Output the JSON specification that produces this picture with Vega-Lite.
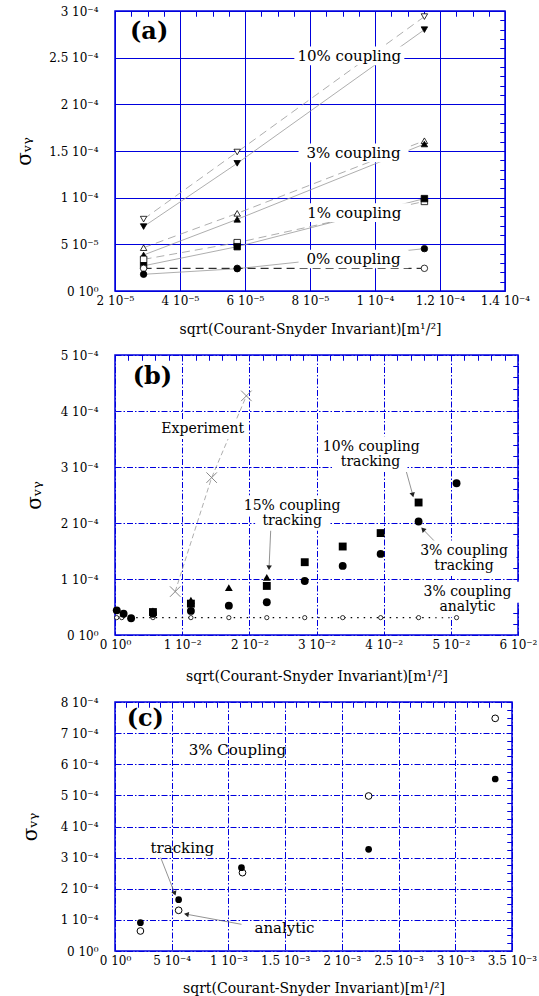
{
"$schema": "https://vega.github.io/schema/vega-lite/v6.json",
"background": "white",
"padding": {"left": 13, "top": 4, "right": 0, "bottom": 0},
"columns": 1,
"align": "none",
"spacing": 11,
"resolve": {"scale": {"shape": "independent", "fill": "independent"}},
"datasets": {
"a_pts": [
{"coupling":"10%","type":"analytic","x":0.0000288,"y":0.000077},
{"coupling":"10%","type":"analytic","x":0.0000576,"y":0.0001489},
{"coupling":"10%","type":"analytic","x":0.0001152,"y":0.000294},
{"coupling":"10%","type":"tracking","x":0.0000288,"y":0.000069},
{"coupling":"10%","type":"tracking","x":0.0000576,"y":0.0001368},
{"coupling":"10%","type":"tracking","x":0.0001152,"y":0.00028},
{"coupling":"3%","type":"analytic","x":0.0000288,"y":0.0000464},
{"coupling":"3%","type":"analytic","x":0.0000576,"y":0.0000832},
{"coupling":"3%","type":"analytic","x":0.0001152,"y":0.000161},
{"coupling":"3%","type":"tracking","x":0.0000288,"y":0.0000386},
{"coupling":"3%","type":"tracking","x":0.0000576,"y":0.0000768},
{"coupling":"3%","type":"tracking","x":0.0001152,"y":0.0001575},
{"coupling":"1%","type":"analytic","x":0.0000288,"y":0.0000339},
{"coupling":"1%","type":"analytic","x":0.0000576,"y":0.0000518},
{"coupling":"1%","type":"analytic","x":0.0001152,"y":0.000096},
{"coupling":"1%","type":"tracking","x":0.0000288,"y":0.000027},
{"coupling":"1%","type":"tracking","x":0.0000576,"y":0.0000475},
{"coupling":"1%","type":"tracking","x":0.0001152,"y":0.000099},
{"coupling":"0%","type":"analytic","x":0.0000288,"y":0.0000243},
{"coupling":"0%","type":"analytic","x":0.0000576,"y":0.0000243},
{"coupling":"0%","type":"analytic","x":0.0001152,"y":0.0000243},
{"coupling":"0%","type":"tracking","x":0.0000288,"y":0.0000179},
{"coupling":"0%","type":"tracking","x":0.0000576,"y":0.0000239},
{"coupling":"0%","type":"tracking","x":0.0001152,"y":0.0000454}
],
"a_txt": [
{"kind":"note","x":0.0000921,"y":0.000252,"label":"10% coupling"},
{"kind":"note","x":0.0000934,"y":0.000148,"label":"3% coupling"},
{"kind":"note","x":0.0000936,"y":0.000084,"label":"1% coupling"},
{"kind":"note","x":0.0000934,"y":0.0000343,"label":"0% coupling"},
{"kind":"tag","x":0.0000305,"y":0.000278,"label":"(a)"}
],
"b_pts": [
{"series":"experiment","x":0.00896,"y":0.0000775},
{"series":"experiment","x":0.01439,"y":0.000281},
{"series":"experiment","x":0.01956,"y":0.000427},
{"series":"3% analytic","x":0.00025,"y":0.000031},
{"series":"3% analytic","x":0.001,"y":0.000031},
{"series":"3% analytic","x":0.00565,"y":0.000031},
{"series":"3% analytic","x":0.0113,"y":0.000031},
{"series":"3% analytic","x":0.01695,"y":0.000031},
{"series":"3% analytic","x":0.0226,"y":0.000031},
{"series":"3% analytic","x":0.02825,"y":0.000031},
{"series":"3% analytic","x":0.0339,"y":0.000031},
{"series":"3% analytic","x":0.03955,"y":0.000031},
{"series":"3% analytic","x":0.0452,"y":0.000031},
{"series":"3% analytic","x":0.05085,"y":0.000031},
{"series":"3% tracking","x":0.00026,"y":0.000044},
{"series":"3% tracking","x":0.00128,"y":0.000038},
{"series":"3% tracking","x":0.0024,"y":0.00003},
{"series":"3% tracking","x":0.00565,"y":0.000038},
{"series":"3% tracking","x":0.0113,"y":0.000043},
{"series":"3% tracking","x":0.01695,"y":0.0000524},
{"series":"3% tracking","x":0.0226,"y":0.0000584},
{"series":"3% tracking","x":0.02825,"y":0.0000965},
{"series":"3% tracking","x":0.0339,"y":0.0001234},
{"series":"3% tracking","x":0.03955,"y":0.0001448},
{"series":"3% tracking","x":0.0452,"y":0.0002026},
{"series":"3% tracking","x":0.05085,"y":0.000271},
{"series":"10% tracking","x":0.00565,"y":0.000041},
{"series":"10% tracking","x":0.0113,"y":0.000056},
{"series":"10% tracking","x":0.0226,"y":0.0000876},
{"series":"10% tracking","x":0.02825,"y":0.00013},
{"series":"10% tracking","x":0.0339,"y":0.000158},
{"series":"10% tracking","x":0.03955,"y":0.000182},
{"series":"10% tracking","x":0.0452,"y":0.0002366},
{"series":"15% tracking","x":0.00565,"y":0.000043},
{"series":"15% tracking","x":0.0113,"y":0.000062},
{"series":"15% tracking","x":0.01695,"y":0.0000845},
{"series":"15% tracking","x":0.0226,"y":0.000103}
],
"b_txt": [
{"kind":"note","x":0.01306,"y":0.0003677,"label":"Experiment"},
{"kind":"note","x":0.03815,"y":0.000336,"label":"10% coupling"},
{"kind":"note","x":0.03804,"y":0.000309,"label":"tracking"},
{"kind":"note","x":0.02637,"y":0.000231,"label":"15% coupling"},
{"kind":"note","x":0.02637,"y":0.000204,"label":"tracking"},
{"kind":"note","x":0.05197,"y":0.00015,"label":"3% coupling"},
{"kind":"note","x":0.05197,"y":0.000123,"label":"tracking"},
{"kind":"note","x":0.05248,"y":0.0000765,"label":"3% coupling"},
{"kind":"note","x":0.05248,"y":0.0000495,"label":"analytic"},
{"kind":"tag","x":0.00558,"y":0.00046,"label":"(b)"}
],
"b_arrows": [
{"id":"a10","x":0.04327,"y":0.0002962,"x2":0.0443,"y2":0.0002515},
{"id":"a15","x":0.0232,"y":0.0001919,"x2":0.02294,"y2":0.0001216},
{"id":"a3","x":0.04762,"y":0.0001669,"x2":0.04593,"y2":0.0001877}
],
"c_pts": [
{"type":"tracking","x":0.000224,"y":0.000091},
{"type":"tracking","x":0.000561,"y":0.0001649},
{"type":"tracking","x":0.001115,"y":0.0002677},
{"type":"tracking","x":0.002236,"y":0.0003266},
{"type":"tracking","x":0.003352,"y":0.0005526},
{"type":"analytic","x":0.000224,"y":0.0000643},
{"type":"analytic","x":0.000561,"y":0.0001307},
{"type":"analytic","x":0.001124,"y":0.0002517},
{"type":"analytic","x":0.002236,"y":0.000498},
{"type":"analytic","x":0.003352,"y":0.0007475}
],
"c_txt": [
{"kind":"note","x":0.001079,"y":0.000646,"label":"3% Coupling"},
{"kind":"note","x":0.000594,"y":0.000332,"label":"tracking"},
{"kind":"note","x":0.001494,"y":0.000075,"label":"analytic"},
{"kind":"tag","x":0.000267,"y":0.000746,"label":"(c)"}
],
"c_arrows": [
{"id":"t","x":0.000403,"y":0.0003,"x2":0.000524,"y2":0.0001874},
{"id":"an","x":0.001115,"y":0.0000857,"x2":0.000636,"y2":0.0001178}
]
},
"concat": [
{
"width": 390, "height": 280,
"resolve": {"axis": {"x": "independent", "y": "independent"}},
"layer": [
{"data": {"name": "a_pts"}, "transform": [{"filter": "datum.type == 'tracking'"}],
 "mark": {"type": "line", "color": "#999999", "strokeWidth": 0.8},
 "encoding": {
  "x": {"field": "x", "type": "quantitative", "scale": {"domain": [0.00002, 0.00014], "nice": false, "zero": false},
   "axis": {"values": [0.00002,0.00004,0.00006,0.00008,0.0001,0.00012,0.00014], "grid": true, "labelPadding": 4,
    "labelExpr": "datum.value < 9.9e-5 ? format(datum.value*1e5, '.2~f') + ' 10⁻⁵' : format(datum.value*1e4, '.2~f') + ' 10⁻⁴'",
    "title": "sqrt(Courant-Snyder Invariant)[m¹/²]", "titlePadding": 16}},
  "y": {"field": "y", "type": "quantitative", "scale": {"domain": [0, 0.0003], "nice": false, "zero": false},
   "axis": {"values": [0,0.00005,0.0001,0.00015,0.0002,0.00025,0.0003], "grid": true, "labelPadding": 17,
    "labelExpr": "datum.value < 1e-9 ? '0 10⁰' : (datum.value < 9.9e-5 ? format(datum.value*1e5, '.2~f') + ' 10⁻⁵' : format(datum.value*1e4, '.2~f') + ' 10⁻⁴')",
    "title": "σᵥᵧ", "titleFontSize": 20, "titlePadding": 14}},
  "detail": {"field": "coupling"}
 }},
{"data": {"name": "a_pts"}, "transform": [{"filter": "datum.type == 'analytic' && datum.coupling != '0%'"}],
 "mark": {"type": "line", "color": "#999999", "strokeWidth": 0.8, "strokeDash": [8, 5]},
 "encoding": {
  "x": {"field": "x", "type": "quantitative", "scale": {"domain": [0.00002, 0.00014], "nice": false, "zero": false},
   "axis": {"values": [0.000025,0.00003,0.000035,0.00004,0.000045,0.00005,0.000055,0.00006,0.000065,0.00007,0.000075,0.00008,0.000085,0.00009,0.000095,0.0001,0.000105,0.00011,0.000115,0.00012,0.000125,0.00013,0.000135], "labels": false, "ticks": true, "tickSize": -5, "title": null}},
  "y": {"field": "y", "type": "quantitative", "scale": {"domain": [0, 0.0003], "nice": false, "zero": false},
   "axis": {"values": [0.00001,0.00002,0.00003,0.00004,0.00005,0.00006,0.00007,0.00008,0.00009,0.0001,0.00011,0.00012,0.00013,0.00014,0.00015,0.00016,0.00017,0.00018,0.00019,0.0002,0.00021,0.00022,0.00023,0.00024,0.00025,0.00026,0.00027,0.00028,0.00029], "labels": false, "ticks": true, "tickSize": -5, "title": null}},
  "detail": {"field": "coupling"}
 }},
{"data": {"name": "a_pts"}, "transform": [{"filter": "datum.type == 'analytic' && datum.coupling == '0%'"}],
 "mark": {"type": "line", "color": "black", "strokeWidth": 1, "strokeDash": [8, 5]},
 "encoding": {
  "x": {"field": "x", "type": "quantitative", "scale": {"domain": [0.00002, 0.00014], "nice": false, "zero": false},
   "axis": {"orient": "top", "values": [0.000025,0.00003,0.000035,0.00004,0.000045,0.00005,0.000055,0.00006,0.000065,0.00007,0.000075,0.00008,0.000085,0.00009,0.000095,0.0001,0.000105,0.00011,0.000115,0.00012,0.000125,0.00013,0.000135], "labels": false, "ticks": true, "tickSize": -5, "title": null}},
  "y": {"field": "y", "type": "quantitative", "scale": {"domain": [0, 0.0003], "nice": false, "zero": false},
   "axis": {"orient": "right", "values": [0.00001,0.00002,0.00003,0.00004,0.00005,0.00006,0.00007,0.00008,0.00009,0.0001,0.00011,0.00012,0.00013,0.00014,0.00015,0.00016,0.00017,0.00018,0.00019,0.0002,0.00021,0.00022,0.00023,0.00024,0.00025,0.00026,0.00027,0.00028,0.00029], "labels": false, "ticks": true, "tickSize": -5, "title": null}}
 }},
{"data": {"name": "a_txt"}, "transform": [{"filter": "datum.kind == 'note'"}],
 "mark": {"type": "point", "shape": "M-1,-0.17L1,-0.17L1,0.17L-1,0.17Z", "filled": true, "color": "white", "size": 12100, "opacity": 1, "strokeWidth": 0},
 "encoding": {
  "x": {"field": "x", "type": "quantitative", "axis": null},
  "y": {"field": "y", "type": "quantitative", "axis": null}
 }},
{"data": {"name": "a_pts"},
 "mark": {"type": "point", "filled": true, "stroke": "black", "strokeWidth": 0.8, "size": 42, "opacity": 1},
 "encoding": {
  "x": {"field": "x", "type": "quantitative", "axis": null},
  "y": {"field": "y", "type": "quantitative", "axis": null},
  "shape": {"field": "coupling", "type": "nominal", "scale": {"domain": ["10%","3%","1%","0%"], "range": ["triangle-down","triangle-up","square","circle"]}, "legend": null},
  "fill": {"field": "type", "type": "nominal", "scale": {"domain": ["tracking","analytic"], "range": ["black","white"]}, "legend": null}
 }},
{"data": {"name": "a_txt"}, "transform": [{"filter": "datum.kind == 'note'"}],
 "mark": {"type": "text", "font": "DejaVu Serif", "fontSize": 15, "color": "black"},
 "encoding": {
  "x": {"field": "x", "type": "quantitative", "axis": null},
  "y": {"field": "y", "type": "quantitative", "axis": null},
  "text": {"field": "label"}
 }},
{"data": {"name": "a_txt"}, "transform": [{"filter": "datum.kind == 'tag'"}],
 "mark": {"type": "text", "font": "DejaVu Serif", "fontSize": 24, "fontWeight": "bold", "color": "black"},
 "encoding": {
  "x": {"field": "x", "type": "quantitative", "axis": null},
  "y": {"field": "y", "type": "quantitative", "axis": null},
  "text": {"field": "label"}
 }}
]
},
{
"width": 403, "height": 280,
"resolve": {"axis": {"x": "independent", "y": "independent"}},
"layer": [
{"data": {"name": "b_pts"}, "transform": [{"filter": "datum.series == 'experiment'"}],
 "mark": {"type": "line", "color": "#999999", "strokeWidth": 0.8, "strokeDash": [5, 3]},
 "encoding": {
  "x": {"field": "x", "type": "quantitative", "scale": {"domain": [0, 0.06], "nice": false, "zero": false},
   "axis": {"values": [0,0.01,0.02,0.03,0.04,0.05,0.06], "grid": true, "gridDash": [6,2,1.5,2], "labelPadding": 4,
    "labelExpr": "datum.value < 1e-9 ? '0 10⁰' : format(datum.value*100, '.2~f') + ' 10⁻²'",
    "title": "sqrt(Courant-Snyder Invariant)[m¹/²]", "titlePadding": 19}},
  "y": {"field": "y", "type": "quantitative", "scale": {"domain": [0, 0.0005], "nice": false, "zero": false},
   "axis": {"values": [0,0.0001,0.0002,0.0003,0.0004,0.0005], "grid": true, "gridDash": [6,2,1.5,2], "labelPadding": 17,
    "labelExpr": "datum.value < 1e-9 ? '0 10⁰' : format(datum.value*1e4, '.2~f') + ' 10⁻⁴'",
    "title": "σᵥᵧ", "titleFontSize": 20, "titlePadding": 16}}
 }},
{"data": {"name": "b_pts"}, "transform": [{"filter": "datum.series == '3% analytic'"}],
 "mark": {"type": "line", "color": "black", "strokeWidth": 1.2, "strokeDash": [1.5, 5]},
 "encoding": {
  "x": {"field": "x", "type": "quantitative", "scale": {"domain": [0, 0.06], "nice": false, "zero": false},
   "axis": {"values": [0.002,0.004,0.006,0.008,0.01,0.012,0.014,0.016,0.018,0.02,0.022,0.024,0.026,0.028,0.03,0.032,0.034,0.036,0.038,0.04,0.042,0.044,0.046,0.048,0.05,0.052,0.054,0.056,0.058], "labels": false, "ticks": true, "tickSize": -5, "title": null}},
  "y": {"field": "y", "type": "quantitative", "scale": {"domain": [0, 0.0005], "nice": false, "zero": false},
   "axis": {"values": [0.00002,0.00004,0.00006,0.00008,0.0001,0.00012,0.00014,0.00016,0.00018,0.0002,0.00022,0.00024,0.00026,0.00028,0.0003,0.00032,0.00034,0.00036,0.00038,0.0004,0.00042,0.00044,0.00046,0.00048], "labels": false, "ticks": true, "tickSize": -5, "title": null}}
 }},
{"data": {"name": "b_arrows"},
 "mark": {"type": "rule", "color": "#777777", "strokeWidth": 0.8},
 "encoding": {
  "x": {"field": "x", "type": "quantitative", "scale": {"domain": [0, 0.06], "nice": false, "zero": false},
   "axis": {"orient": "top", "values": [0.002,0.004,0.006,0.008,0.01,0.012,0.014,0.016,0.018,0.02,0.022,0.024,0.026,0.028,0.03,0.032,0.034,0.036,0.038,0.04,0.042,0.044,0.046,0.048,0.05,0.052,0.054,0.056,0.058], "labels": false, "ticks": true, "tickSize": -5, "title": null}},
  "y": {"field": "y", "type": "quantitative", "scale": {"domain": [0, 0.0005], "nice": false, "zero": false},
   "axis": {"orient": "right", "values": [0.00002,0.00004,0.00006,0.00008,0.0001,0.00012,0.00014,0.00016,0.00018,0.0002,0.00022,0.00024,0.00026,0.00028,0.0003,0.00032,0.00034,0.00036,0.00038,0.0004,0.00042,0.00044,0.00046,0.00048], "labels": false, "ticks": true, "tickSize": -5, "title": null}},
  "x2": {"field": "x2"},
  "y2": {"field": "y2"}
 }},
{"data": {"name": "b_txt"}, "transform": [{"filter": "datum.kind == 'note' && indexof(datum.label, 'coupling') >= 0"}],
 "mark": {"type": "point", "shape": "M-1,-0.2L1,-0.2L1,0.2L-1,0.2Z", "filled": true, "color": "white", "size": 11025, "opacity": 1, "strokeWidth": 0},
 "encoding": {
  "x": {"field": "x", "type": "quantitative", "axis": null},
  "y": {"field": "y", "type": "quantitative", "axis": null}
 }},
{"data": {"name": "b_txt"}, "transform": [{"filter": "datum.kind == 'note' && indexof(datum.label, 'coupling') < 0"}],
 "mark": {"type": "point", "shape": "M-1,-0.27L1,-0.27L1,0.27L-1,0.27Z", "filled": true, "color": "white", "size": 5476, "opacity": 1, "strokeWidth": 0},
 "encoding": {
  "x": {"field": "x", "type": "quantitative", "axis": null},
  "y": {"field": "y", "type": "quantitative", "axis": null}
 }},
{"data": {"name": "b_arrows"}, "transform": [{"filter": "datum.id == 'a10'"}],
 "mark": {"type": "point", "shape": "triangle", "filled": true, "color": "#222222", "size": 30, "angle": 165, "opacity": 1},
 "encoding": {"x": {"field": "x2", "type": "quantitative", "axis": null}, "y": {"field": "y2", "type": "quantitative", "axis": null}}},
{"data": {"name": "b_arrows"}, "transform": [{"filter": "datum.id == 'a15'"}],
 "mark": {"type": "point", "shape": "triangle", "filled": true, "color": "#222222", "size": 30, "angle": 182, "opacity": 1},
 "encoding": {"x": {"field": "x2", "type": "quantitative", "axis": null}, "y": {"field": "y2", "type": "quantitative", "axis": null}}},
{"data": {"name": "b_arrows"}, "transform": [{"filter": "datum.id == 'a3'"}],
 "mark": {"type": "point", "shape": "triangle", "filled": true, "color": "#222222", "size": 30, "angle": 316, "opacity": 1},
 "encoding": {"x": {"field": "x2", "type": "quantitative", "axis": null}, "y": {"field": "y2", "type": "quantitative", "axis": null}}},
{"data": {"name": "b_pts"}, "transform": [{"filter": "datum.series == 'experiment'"}],
 "mark": {"type": "point", "shape": "M-1,-1L1,1M-1,1L1,-1", "filled": false, "stroke": "#888888", "strokeWidth": 1, "size": 110, "opacity": 1},
 "encoding": {"x": {"field": "x", "type": "quantitative", "axis": null}, "y": {"field": "y", "type": "quantitative", "axis": null}}},
{"data": {"name": "b_pts"}, "transform": [{"filter": "datum.series == '3% analytic'"}],
 "mark": {"type": "point", "shape": "circle", "filled": true, "fill": "white", "stroke": "black", "strokeWidth": 0.8, "size": 18, "opacity": 1},
 "encoding": {"x": {"field": "x", "type": "quantitative", "axis": null}, "y": {"field": "y", "type": "quantitative", "axis": null}}},
{"data": {"name": "b_pts"}, "transform": [{"filter": "datum.series != '3% analytic' && datum.series != 'experiment'"}],
 "mark": {"type": "point", "filled": true, "color": "black", "size": 62, "opacity": 1},
 "encoding": {
  "x": {"field": "x", "type": "quantitative", "axis": null},
  "y": {"field": "y", "type": "quantitative", "axis": null},
  "shape": {"field": "series", "type": "nominal", "scale": {"domain": ["3% tracking","10% tracking","15% tracking"], "range": ["circle","square","triangle-up"]}, "legend": null}
 }},
{"data": {"name": "b_txt"}, "transform": [{"filter": "datum.kind == 'note'"}],
 "mark": {"type": "text", "font": "DejaVu Serif", "fontSize": 14, "color": "black"},
 "encoding": {
  "x": {"field": "x", "type": "quantitative", "axis": null},
  "y": {"field": "y", "type": "quantitative", "axis": null},
  "text": {"field": "label"}
 }},
{"data": {"name": "b_txt"}, "transform": [{"filter": "datum.kind == 'tag'"}],
 "mark": {"type": "text", "font": "DejaVu Serif", "fontSize": 24, "fontWeight": "bold", "color": "black"},
 "encoding": {
  "x": {"field": "x", "type": "quantitative", "axis": null},
  "y": {"field": "y", "type": "quantitative", "axis": null},
  "text": {"field": "label"}
 }}
]
},
{
"width": 397, "height": 249,
"resolve": {"axis": {"x": "independent", "y": "independent"}},
"layer": [
{"data": {"name": "c_arrows"},
 "mark": {"type": "rule", "color": "#777777", "strokeWidth": 0.8},
 "encoding": {
  "x": {"field": "x", "type": "quantitative", "scale": {"domain": [0, 0.0035], "nice": false, "zero": false},
   "axis": {"values": [0,0.0005,0.001,0.0015,0.002,0.0025,0.003,0.0035], "grid": true, "gridDash": [6,2,1.5,2], "labelPadding": 4,
    "labelExpr": "datum.value < 1e-9 ? '0 10⁰' : (datum.value < 9.9e-4 ? format(datum.value*1e4, '.2~f') + ' 10⁻⁴' : format(datum.value*1e3, '.2~f') + ' 10⁻³')",
    "title": "sqrt(Courant-Snyder Invariant)[m¹/²]", "titlePadding": 15}},
  "y": {"field": "y", "type": "quantitative", "scale": {"domain": [0, 0.0008], "nice": false, "zero": false},
   "axis": {"values": [0,0.0001,0.0002,0.0003,0.0004,0.0005,0.0006,0.0007,0.0008], "grid": true, "gridDash": [6,2,1.5,2], "labelPadding": 17,
    "labelExpr": "datum.value < 1e-9 ? '0 10⁰' : format(datum.value*1e4, '.2~f') + ' 10⁻⁴'",
    "title": "σᵥᵧ", "titleFontSize": 20, "titlePadding": 20}},
  "x2": {"field": "x2"},
  "y2": {"field": "y2"}
 }},
{"data": {"name": "c_pts"}, "transform": [{"filter": "datum.type == 'analytic'"}],
 "mark": {"type": "point", "shape": "circle", "filled": true, "fill": "white", "stroke": "black", "strokeWidth": 1, "size": 45, "opacity": 1},
 "encoding": {
  "x": {"field": "x", "type": "quantitative", "scale": {"domain": [0, 0.0035], "nice": false, "zero": false},
   "axis": {"values": [0.0001,0.0002,0.0003,0.0004,0.0005,0.0006,0.0007,0.0008,0.0009,0.001,0.0011,0.0012,0.0013,0.0014,0.0015,0.0016,0.0017,0.0018,0.0019,0.002,0.0021,0.0022,0.0023,0.0024,0.0025,0.0026,0.0027,0.0028,0.0029,0.003,0.0031,0.0032,0.0033,0.0034], "labels": false, "ticks": true, "tickSize": -5, "title": null}},
  "y": {"field": "y", "type": "quantitative", "scale": {"domain": [0, 0.0008], "nice": false, "zero": false},
   "axis": {"values": [0.000025,0.00005,0.000075,0.0001,0.000125,0.00015,0.000175,0.0002,0.000225,0.00025,0.000275,0.0003,0.000325,0.00035,0.000375,0.0004,0.000425,0.00045,0.000475,0.0005,0.000525,0.00055,0.000575,0.0006,0.000625,0.00065,0.000675,0.0007,0.000725,0.00075,0.000775], "labels": false, "ticks": true, "tickSize": -5, "title": null}}
 }},
{"data": {"name": "c_pts"}, "transform": [{"filter": "datum.type == 'tracking'"}],
 "mark": {"type": "point", "shape": "circle", "filled": true, "color": "black", "size": 45, "opacity": 1},
 "encoding": {
  "x": {"field": "x", "type": "quantitative", "scale": {"domain": [0, 0.0035], "nice": false, "zero": false},
   "axis": {"orient": "top", "values": [0.0001,0.0002,0.0003,0.0004,0.0005,0.0006,0.0007,0.0008,0.0009,0.001,0.0011,0.0012,0.0013,0.0014,0.0015,0.0016,0.0017,0.0018,0.0019,0.002,0.0021,0.0022,0.0023,0.0024,0.0025,0.0026,0.0027,0.0028,0.0029,0.003,0.0031,0.0032,0.0033,0.0034], "labels": false, "ticks": true, "tickSize": -5, "title": null}},
  "y": {"field": "y", "type": "quantitative", "scale": {"domain": [0, 0.0008], "nice": false, "zero": false},
   "axis": {"orient": "right", "values": [0.000025,0.00005,0.000075,0.0001,0.000125,0.00015,0.000175,0.0002,0.000225,0.00025,0.000275,0.0003,0.000325,0.00035,0.000375,0.0004,0.000425,0.00045,0.000475,0.0005,0.000525,0.00055,0.000575,0.0006,0.000625,0.00065,0.000675,0.0007,0.000725,0.00075,0.000775], "labels": false, "ticks": true, "tickSize": -5, "title": null}}
 }},
{"data": {"name": "c_arrows"}, "transform": [{"filter": "datum.id == 't'"}],
 "mark": {"type": "point", "shape": "triangle", "filled": true, "color": "#222222", "size": 30, "angle": 159, "opacity": 1},
 "encoding": {"x": {"field": "x2", "type": "quantitative", "axis": null}, "y": {"field": "y2", "type": "quantitative", "axis": null}}},
{"data": {"name": "c_arrows"}, "transform": [{"filter": "datum.id == 'an'"}],
 "mark": {"type": "point", "shape": "triangle", "filled": true, "color": "#222222", "size": 30, "angle": 280, "opacity": 1},
 "encoding": {"x": {"field": "x2", "type": "quantitative", "axis": null}, "y": {"field": "y2", "type": "quantitative", "axis": null}}},
{"data": {"name": "c_txt"}, "transform": [{"filter": "datum.kind == 'note'"}],
 "mark": {"type": "text", "font": "DejaVu Serif", "fontSize": 15, "color": "black"},
 "encoding": {
  "x": {"field": "x", "type": "quantitative", "axis": null},
  "y": {"field": "y", "type": "quantitative", "axis": null},
  "text": {"field": "label"}
 }},
{"data": {"name": "c_txt"}, "transform": [{"filter": "datum.kind == 'tag'"}],
 "mark": {"type": "text", "font": "DejaVu Serif", "fontSize": 24, "fontWeight": "bold", "color": "black"},
 "encoding": {
  "x": {"field": "x", "type": "quantitative", "axis": null},
  "y": {"field": "y", "type": "quantitative", "axis": null},
  "text": {"field": "label"}
 }}
]
}
],
"config": {
 "view": {"stroke": "#0000dd", "strokeWidth": 1.5},
 "font": "DejaVu Serif",
 "axis": {"domain": false, "ticks": false, "grid": false, "labelFont": "DejaVu Serif", "labelFontSize": 12, "labelColor": "black",
  "titleFont": "DejaVu Serif", "titleFontSize": 14, "titleFontWeight": "normal", "titleColor": "black",
  "tickColor": "#0000dd", "tickWidth": 1, "tickOpacity": 1, "gridColor": "#0000dd", "gridWidth": 1, "gridOpacity": 1,
  "labelOverlap": false, "labelFlush": false, "labelBound": false}
}
}
